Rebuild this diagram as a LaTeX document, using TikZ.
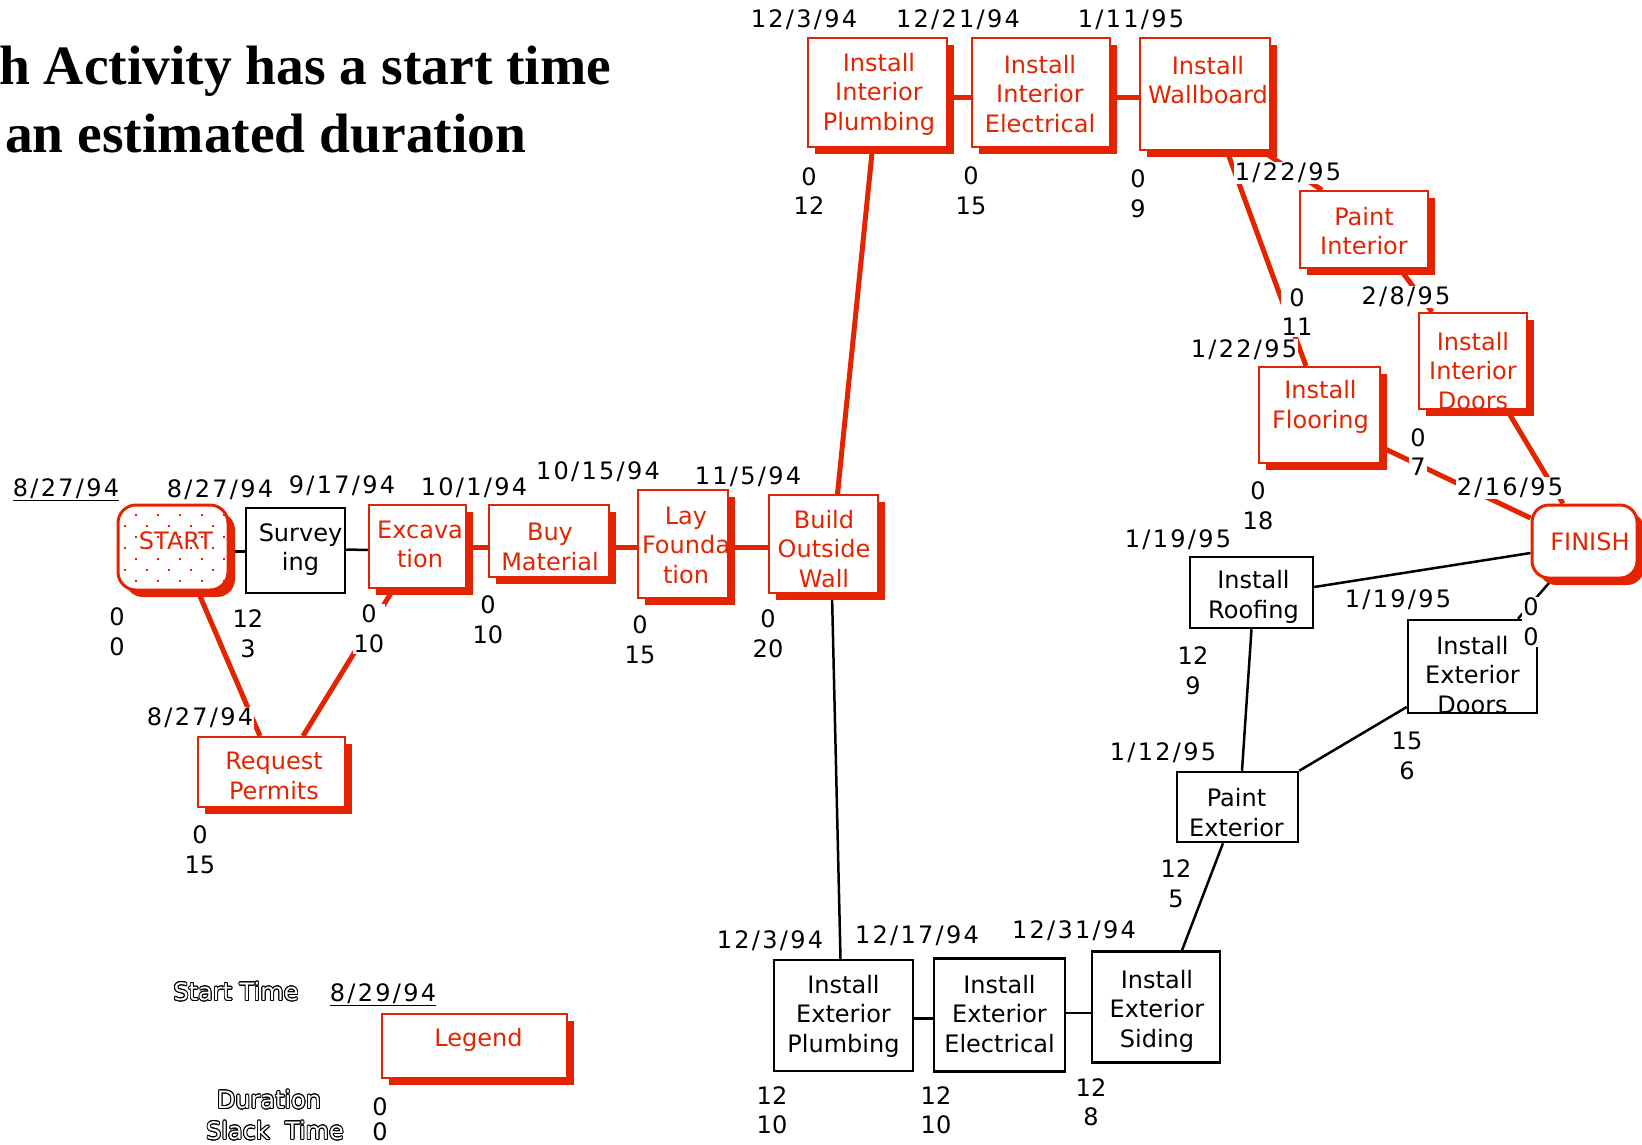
\documentclass[tikz,border=0pt]{standalone}
\usepackage{fontspec}
\usepackage[copies]{contour}
\usetikzlibrary{shadows,backgrounds,calc}
\newfontfamily\genevafont{DejaVu Sans}
\newfontfamily\datefontfam[LetterSpace=9.5]{DejaVu Sans}
\newfontfamily\titlefontfam{Liberation Serif}
\definecolor{myred}{RGB}{228,36,0}
\newcommand\nfont{\genevafont\fontsize{24}{29.5}\selectfont}
\newcommand\dfont{\datefontfam\fontsize{24}{29.5}\selectfont}
\contourlength{0.9pt}
\tikzset{
 redbox/.style={draw=myred, line width=2pt, fill=white, inner sep=0pt,
   drop shadow={shadow xshift=7pt, shadow yshift=-7pt, fill=myred, opacity=1}},
 startbox/.style={redbox, line width=3pt, rounded corners=18pt},
 finishbox/.style={redbox, line width=3pt, rounded corners=17pt},
 blackbox/.style={draw=black, line width=2.5pt, fill=white, inner sep=0pt},
 rtext/.style={text=myred, font=\nfont, align=center, inner sep=0pt},
 btext/.style={text=black, font=\nfont, align=center, inner sep=0pt},
 lbl/.style={font=\nfont, fill=white, inner sep=1pt, align=center},
 datelbl/.style={font=\dfont, fill=white, inner sep=1pt},
 redline/.style={draw=myred, line width=5pt},
 blkline/.style={draw=black, line width=2.5pt},
 legtext/.style={font=\nfont, inner sep=0pt},
 titletext/.style={anchor=base west, inner sep=0pt, font=\titlefontfam\bfseries\fontsize{55.5}{66}\selectfont},
}
% #1 style, #2 name, #3 cx, #4 cy, #5 w, #6 h, #7 text, #8 text offset, #9 text style
\newcommand\act[9]{%
 \node[#1, minimum width=#5pt, minimum height=#6pt] (#2) at (#3,#4) {};
 \node[#9] (#2-t) at ($(#2.center)+(#8)$) {#7};}
\begin{document}
\begin{tikzpicture}[x=1pt,y=-1pt]
\useasboundingbox (0,0) rectangle (1642,1144);

% title
\node[titletext] (title1) at (-1,84) {h Activity has a start time};
\node[titletext] (title2) at (5,152) {an estimated duration};

% START with dotted fill
\node[startbox, minimum width=110pt, minimum height=85pt] (start) at (173,547.5) {};
\begin{scope}
 \clip[rounded corners=18pt] (start.south west) rectangle (start.north east);
 \foreach \r in {0,...,6} {
   \pgfmathsetmacro{\yy}{515+11*\r}
   \pgfmathsetmacro{\xo}{mod(\r,2)==0 ? 136 : 125}
   \foreach \c in {0,...,4} {
     \fill[myred] (\xo+22*\c-1.3,\yy-1.3) rectangle ++(2.6,2.6);
   }
 }
\end{scope}
\node[rtext] (start-t) at ($(start.center)+(3,-6.5)$) {START};

% activities
\act{blackbox}{surv}{295.5}{550.5}{99}{85}{Survey\\ing}{5,-1}{btext}
\act{redbox}{exc}{417.5}{546.5}{97}{83}{Excava\\tion}{2.5,-2}{rtext}
\act{redbox}{buy}{549}{541}{120}{72}{Buy\\Material}{1,6}{rtext}
\act{redbox}{lay}{683}{544}{90}{108}{Lay\\Founda\\tion}{3,1}{rtext}
\act{redbox}{build}{823.5}{544}{109}{98}{Build\\Outside\\Wall}{0.5,5}{rtext}
\act{redbox}{rp}{271.5}{772}{147}{70}{Request\\Permits}{2.5,4}{rtext}
\act{redbox}{intp}{877.5}{92.5}{139}{109}{Install\\Interior\\Plumbing}{1.5,1.5}{rtext}
\act{redbox}{inte}{1041}{92.5}{138}{109}{Install\\Interior\\Electrical}{-1,1.5}{rtext}
\act{redbox}{wall}{1205}{94}{130}{112}{Install\\Wallboard}{3,-14}{rtext}
\act{redbox}{painti}{1364}{229.5}{128}{77}{Paint\\Interior}{0,1.5}{rtext}
\act{redbox}{doors}{1473}{361}{108}{96}{Install\\Interior\\Doors}{0,10}{rtext}
\act{redbox}{floor}{1319.5}{415}{121}{96}{Install\\Flooring}{1,-8}{rtext}
\act{finishbox}{finish}{1584.5}{541.5}{105}{73}{FINISH}{5.5,0}{rtext}
\act{blackbox}{roof}{1251.5}{592.5}{123}{71}{Install\\Roofing}{2,4.5}{btext}
\act{blackbox}{extd}{1472.5}{666.5}{129}{93}{Install\\Exterior\\Doors}{0,8.5}{btext}
\act{blackbox}{painte}{1237.5}{807}{121}{70}{Paint\\Exterior}{-1,5.5}{btext}
\act{blackbox}{extp}{843.5}{1015.5}{139}{111}{Install\\Exterior\\Plumbing}{0,0.5}{btext}
\act{blackbox}{exte}{999.5}{1015}{131}{113}{Install\\Exterior\\Electrical}{0,-1}{btext}
\act{blackbox}{siding}{1156}{1007}{128}{111}{Install\\Exterior\\Siding}{1,4}{btext}
\act{redbox}{legend}{474.5}{1046}{185}{64}{Legend}{4,-6}{rtext}

% connectors
\begin{scope}[on background layer]
\draw[blkline] ($(start.east)+(0,4)$) -- ($(surv.west)+(0,1)$);
\draw[blkline] ($(surv.east)+(0,-1)$) -- ($(exc.west)+(0,3.5)$);
\draw[redline] ($(start.south)+(25,0)$) -- ($(rp.north)+(-11.5,0)$);
\draw[redline] ($(rp.north)+(31.5,0)$) -- ($(exc.south)+(-24,0)$);
\draw[redline] ($(exc.east)+(0,0.5)$) -- ($(buy.west)+(0,6)$);
\draw[redline] ($(buy.east)+(0,6)$) -- ($(lay.west)+(0,3)$);
\draw[redline] ($(lay.east)+(0,3)$) -- ($(build.west)+(0,3)$);
\draw[redline] ($(build.north)+(14,0)$) -- ($(intp.south)+(-5,0)$);
\draw[blkline] ($(build.south)+(8.5,0)$) -- ($(extp.north)+(-3,0)$);
\draw[redline] ($(intp.east)+(0,4.5)$) -- ($(inte.west)+(0,4.5)$);
\draw[redline] ($(inte.east)+(0,4.5)$) -- ($(wall.west)+(0,3)$);
\draw[redline] ($(wall.south)+(57,0)$) -- ($(painti.north)+(-42,0)$);
\draw[redline] ($(wall.south)+(22,0)$) -- ($(floor.north)+(-13.5,0)$);
\draw[redline] ($(painti.south)+(36,0)$) -- ($(doors.north)+(-41,0)$);
\draw[redline] ($(doors.south)+(34,0)$) -- ($(finish.north)+(-21.5,0)$);
\draw[redline] ($(floor.east)+(0,32)$) -- ($(finish.west)+(0,-23.5)$);
\draw[blkline] ($(roof.east)+(0,-5.5)$) -- ($(finish.west)+(0,11.5)$);
\draw[blkline] ($(extd.north)+(45.5,0)$) -- ($(finish.south)+(-32.5,0)$);
\draw[blkline] (roof.south) -- ($(painte.north)+(4.5,0)$);
\draw[blkline] (painte.north east) -- ($(extd.west)+(0,40.5)$);
\draw[blkline] ($(painte.south)+(-14.5,0)$) -- ($(siding.north)+(26,0)$);
\draw[blkline] ($(extp.east)+(0,3)$) -- ($(exte.west)+(0,3.5)$);
\draw[blkline] ($(exte.east)+(0,-2)$) -- ($(siding.west)+(0,6)$);
\end{scope}

% dates
\node[datelbl] (d0) at (66,490) {\underline{8/27/94}};
\node[datelbl] (d-start) at (220,490) {8/27/94};
\node[datelbl] (d-surv) at (342,486) {9/17/94};
\node[datelbl] (d-exc) at (474,488) {10/1/94};
\node[datelbl] (d-buy) at (598,472) {10/15/94};
\node[datelbl] (d-lay) at (748,477) {11/5/94};
\node[datelbl] (d-intp) at (804,20) {12/3/94};
\node[datelbl] (d-inte) at (958,20) {12/21/94};
\node[datelbl] (d-wall) at (1131,20) {1/11/95};
\node[datelbl] (d-painti) at (1288,173) {1/22/95};
\node[datelbl] (d-doors) at (1406,297) {2/8/95};
\node[datelbl] (d-floor) at (1244,350) {1/22/95};
\node[datelbl] (d-finish) at (1510,488) {2/16/95};
\node[datelbl] (d-roof) at (1178,540) {1/19/95};
\node[datelbl] (d-extd) at (1398,600) {1/19/95};
\node[datelbl] (d-painte) at (1163,753) {1/12/95};
\node[datelbl] (d-extp) at (770,941) {12/3/94};
\node[datelbl] (d-exte) at (917,936) {12/17/94};
\node[datelbl] (d-siding) at (1074,931) {12/31/94};
\node[datelbl] (d-rp) at (200,718) {8/27/94};

% slack / duration pairs
\node[lbl] (n-start) at (117,632) {0\\0};
\node[lbl] (n-surv) at (248,634) {12\\3};
\node[lbl] (n-exc) at (369,629) {0\\10};
\node[lbl] (n-buy) at (488,620) {0\\10};
\node[lbl] (n-lay) at (640,640) {0\\15};
\node[lbl] (n-build) at (768,634) {0\\20};
\node[lbl] (n-rp) at (200,850) {0\\15};
\node[lbl] (n-intp) at (809,191) {0\\12};
\node[lbl] (n-inte) at (971,191) {0\\15};
\node[lbl] (n-wall) at (1138,194) {0\\9};
\node[lbl] (n-painti) at (1297,312) {0\\11};
\node[lbl] (n-doors) at (1418,452) {0\\7};
\node[lbl] (n-floor) at (1258,506) {0\\18};
\node[lbl] (n-roof) at (1193,671) {12\\9};
\node[lbl] (n-extd) at (1531,622) {0\\0};
\node[lbl] (n-painte0) at (1407,756) {15\\6};
\node[lbl] (n-painte) at (1176,884) {12\\5};
\node[lbl] (n-extp) at (772,1110) {12\\10};
\node[lbl] (n-exte) at (936,1110) {12\\10};
\node[lbl] (n-siding) at (1091,1102) {12\\8};

% legend
\node[legtext] (lg-start) at (236,992) {\textcolor{white}{\contour{black}{Start Time}}};
\node[datelbl] (lg-date) at (383,995) {\underline{8/29/94}};
\node[legtext] (lg-dur) at (269,1100) {\textcolor{white}{\contour{black}{Duration}}};
\node[legtext] (lg-slack) at (275,1131) {\textcolor{white}{\contour{black}{Slack\ \ Time}}};
\node[legtext, align=center] (lg-nums) at (380,1119) {0\\[-5pt]0};
\end{tikzpicture}
\end{document}
